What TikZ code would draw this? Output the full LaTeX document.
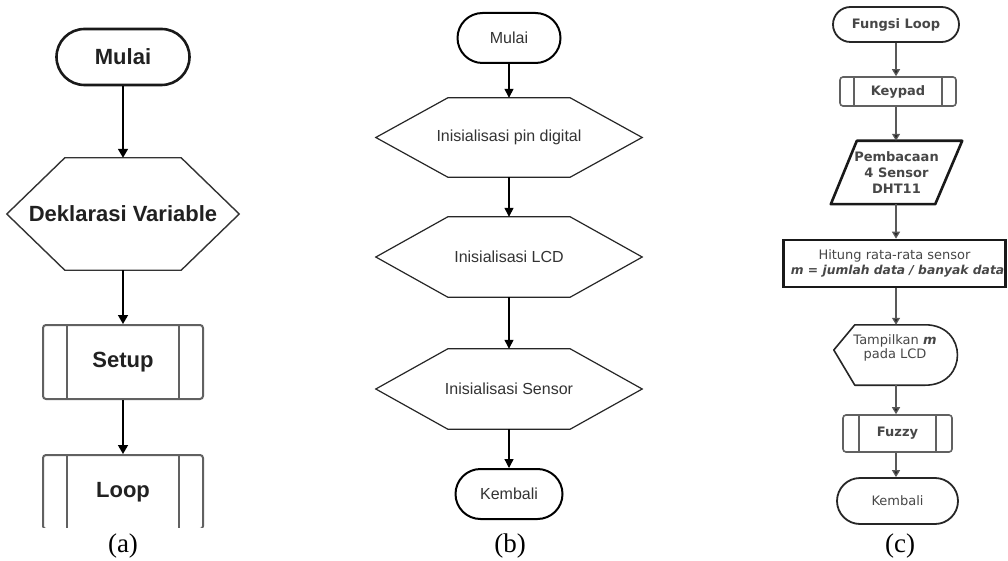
\documentclass[tikz,border=0pt]{standalone}
\usepackage{fontspec}
\setmainfont{Liberation Sans}
\newfontfamily\capfont{Liberation Serif}
\newfontfamily\vfont{DejaVu Sans}
\usetikzlibrary{arrows.meta,calc}

% hexagon outline around an (invisible) node: #1 node, #2 horizontal inset, #3 style
\newcommand\hexoutline[3]{%
  \draw[#3] (#1.west) -- ($(#1.north west)+(#2,0)$) -- ($(#1.north east)+(-#2,0)$)
    -- (#1.east) -- ($(#1.south east)+(-#2,0)$) -- ($(#1.south west)+(#2,0)$) -- cycle;}

\tikzset{
  box/.style={inner sep=0pt, align=center},
  % predefined-process box, #1 = inset of the inner vertical bars
  subr/.style={box, draw=black!62, rounded corners=3pt,
    path picture={
      \draw[black!62, line width=\pgflinewidth]
        ($(path picture bounding box.north west)+(#1,0)$) -- ($(path picture bounding box.south west)+(#1,0)$)
        ($(path picture bounding box.north east)+(-#1,0)$) -- ($(path picture bounding box.south east)+(-#1,0)$);}},
  arrA/.style={line width=1.5pt, -{Triangle[width=10pt,length=9pt]}},
  arrB/.style={line width=1.3pt, -{Triangle[width=9pt,length=9pt]}},
  arrC/.style={line width=1.3pt, draw=black!65, -{Triangle[width=8pt,length=7pt,fill=black!85]}},
  fa/.style={font=\fontsize{22}{26}\selectfont\bfseries, text=black!87},
  fb/.style={font=\fontsize{16}{19}\selectfont, text=black!80},
  fc/.style={font=\vfont\fontsize{13}{16}\selectfont\bfseries, text=black!72},
  fcr/.style={font=\vfont\fontsize{13}{15.5}\selectfont, text=black!72},
  captext/.style={font=\capfont\fontsize{27}{30}\selectfont, text=black},
}

\begin{document}
\begin{tikzpicture}[x=1pt,y=-1pt]
\useasboundingbox[fill=white] (0,0) rectangle (1008,561);

% ---------------- (a) main program ----------------
\node[box, fa, draw=black!90, line width=2.6pt, rounded corners=28pt,
      minimum width=133pt, minimum height=56pt] (aStart) at (123,57) {Mulai};
\node[box, fa, minimum width=232pt, minimum height=112pt] (aDecl) at (123,214) {Deklarasi Variable};
\hexoutline{aDecl}{58}{draw=black!80, line width=1.4pt}
\node[subr=24, fa, line width=2pt, minimum width=160pt, minimum height=74pt] (aSetup) at (123,362) {Setup};
\begin{scope}
  \clip (0,440) rectangle (260,527);
  \node[subr=24, fa, line width=2pt, minimum width=160pt, minimum height=74pt] (aLoop) at (123,492) {Loop};
\end{scope}
\draw[arrA] (aStart.south) -- (aDecl.north);
\draw[arrA] (aDecl.south) -- (aSetup.north);
\draw[arrA] (aSetup.south) -- (aLoop.north);
\node[captext] (capA) at (123,546) {(a)};

% ---------------- (b) setup routine ----------------
\node[box, fb, draw=black, line width=2pt, rounded corners=25pt,
      minimum width=103pt, minimum height=50pt] (bStart) at (509,38) {Mulai};
\node[box, fb, minimum width=266pt, minimum height=79pt] (bPin) at (509,137.5) {Inisialisasi pin digital};
\node[box, fb, minimum width=266pt, minimum height=80pt] (bLcd) at (509,257) {Inisialisasi LCD};
\node[box, fb, minimum width=266pt, minimum height=80pt] (bSens) at (509,389) {Inisialisasi Sensor};
\foreach \n in {bPin,bLcd,bSens}{\hexoutline{\n}{72}{draw=black!85, line width=1.2pt}}
\node[box, fb, draw=black, line width=2pt, rounded corners=25pt,
      minimum width=107pt, minimum height=50pt] (bEnd) at (509,494) {Kembali};
\draw[arrB] (bStart.south) -- (bPin.north);
\draw[arrB] (bPin.south) -- (bLcd.north);
\draw[arrB] (bLcd.south) -- (bSens.north);
\draw[arrB] (bSens.south) -- (bEnd.north);
\node[captext] (capB) at (510,546) {(b)};

% ---------------- (c) loop routine ----------------
\node[box, fc, draw=black!85, line width=1.8pt, rounded corners=17.5pt,
      minimum width=126pt, minimum height=35pt] (cStart) at (896,24.5) {Fungsi Loop};
\node[subr=14, fc, line width=1.6pt, minimum width=116pt, minimum height=29pt] (cKey) at (898,91.5) {Keypad};
\node[box, fc, minimum width=131pt, minimum height=63pt] (cRead) at (896.5,172.5)
     {Pembacaan\\4 Sensor\\DHT11};
\draw[black!90, line width=2.6pt, line join=round]
  ($(cRead.north west)+(26,0)$) -- (cRead.north east) -- ($(cRead.south east)+(-27,0)$)
  -- (cRead.south west) -- cycle;
\node[box, fcr, draw=black!90, line width=2.6pt, minimum width=222pt, minimum height=47pt] (cAvg) at (894.5,263.5)
     {\raisebox{-2pt}{Hitung rata-rata sensor}\\[-1pt]\hspace*{6pt}\raisebox{-2pt}{\fontsize{12.3}{15}\selectfont\textbf{\textit{m = jumlah data / banyak data}}}};
% display symbol: outline drawn from the frame node, text set slightly high
\node[box, minimum width=126pt, minimum height=60pt] (cShow) at (897,355) {};
\draw[black!85, line width=1.6pt, line join=round]
  ($(cShow.north west)+(21,0)$) -- ($(cShow.north east)+(-35,0)$)
  .. controls ($(cShow.north east)+(8,0)$) and ($(cShow.south east)+(8,0)$) .. ($(cShow.south east)+(-35,0)$)
  -- ($(cShow.south west)+(21,0)$) -- ($(cShow.west)+(0,-5)$) -- cycle;
\node[box, fcr] (cShowText) at ($(cShow.center)+(-2,-7)$) {Tampilkan \textbf{\textit{m}}\\[-1pt]pada LCD};
\node[subr=16, fc, line width=1.6pt, minimum width=109pt, minimum height=37pt] (cFuzzy) at (897.5,433.5) {Fuzzy};
\node[box, fcr, draw=black!85, line width=1.8pt, rounded corners=23pt,
      minimum width=121pt, minimum height=46pt] (cEnd) at (897.5,501) {Kembali};
\draw[arrC] (cStart.south) -- (cStart.south |- cKey.north);
\draw[arrC] (cStart.south |- cKey.south) -- (cStart.south |- cRead.north);
\draw[arrC] (cStart.south |- cRead.south) -- (cStart.south |- cAvg.north);
\draw[arrC] (cStart.south |- cAvg.south) -- (cStart.south |- cShow.north);
\draw[arrC] (cStart.south |- cShow.south) -- (cStart.south |- cFuzzy.north);
\draw[arrC] (cStart.south |- cFuzzy.south) -- (cStart.south |- cEnd.north);
\node[captext] (capC) at (900,546) {(c)};
\end{tikzpicture}
\end{document}
